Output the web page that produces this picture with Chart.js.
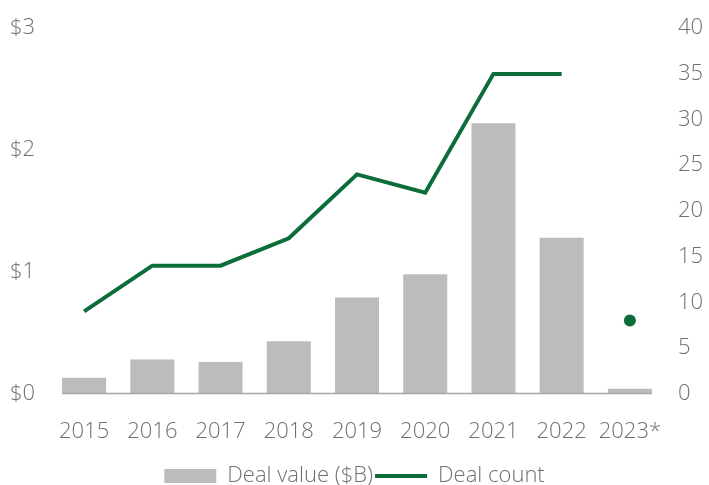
<!DOCTYPE html>
<html>
<head>
<meta charset="utf-8">
<script src="https://cdn.jsdelivr.net/npm/chart.js@4"></script>
<style>
  html, body { margin: 0; padding: 0; background: #fff; }
  #wrap { width: 709px; height: 485px; }
</style>
</head>
<body>
<div id="wrap"><canvas id="dealsChart" width="709" height="485"></canvas></div>
<script>
const years = ['2015', '2016', '2017', '2018', '2019', '2020', '2021', '2022', '2023*'];
const dealValue = [0.13, 0.28, 0.26, 0.43, 0.79, 0.98, 2.22, 1.28, 0.04];
const dealCount = [9, 14, 14, 17, 24, 22, 35, 35, 8];
const valueTicks = [0, 1, 2, 3];
const countTicks = [0, 5, 10, 15, 20, 25, 30, 35, 40];

const palette = {
    bar: '#bbbcbb',
    green: '#0b6d3a',
    text: '#707070',
    axis: '#a6a6a6',
};

// 2023 is a partial year: shown as a lone dot, not joined to the line
const lastIdx = dealCount.length - 1;
const lineData = dealCount.map(function (v, i) { return i === lastIdx ? null : v; });
const dotData = dealCount.map(function (v, i) { return i === lastIdx ? v : null; });

const font = { family: '"Open Sans", sans-serif', size: 22, weight: '300' };

// baseline runs from the outer edge of the first bar to the outer edge of the last one
const baseline = {
    id: 'baseline',
    afterDatasetsDraw: function (chart) {
        const bars = chart.getDatasetMeta(2).data;
        if (!bars.length) return;
        const first = bars[0];
        const last = bars[bars.length - 1];
        const y = chart.scales.value.getPixelForValue(0);
        const ctx = chart.ctx;
        ctx.save();
        ctx.strokeStyle = palette.axis;
        ctx.lineWidth = 1.5;
        ctx.beginPath();
        ctx.moveTo(first.x - first.width / 2, y);
        ctx.lineTo(last.x + last.width / 2, y);
        ctx.stroke();
        ctx.restore();
    },
};

new Chart(document.getElementById('dealsChart'), {
    data: {
        labels: years,
        datasets: [
            {
                type: 'line',
                label: 'Deal count',
                data: lineData,
                yAxisID: 'count',
                borderColor: palette.green,
                backgroundColor: palette.green,
                borderWidth: 4,
                pointRadius: 0,
                tension: 0,
                order: 0,
            },
            {
                type: 'line',
                label: 'Deal count 2023',
                data: dotData,
                yAxisID: 'count',
                showLine: false,
                pointRadius: 6,
                pointBorderWidth: 0,
                pointBackgroundColor: palette.green,
                order: 0,
            },
            {
                type: 'bar',
                label: 'Deal value ($B)',
                data: dealValue,
                yAxisID: 'value',
                backgroundColor: palette.bar,
                categoryPercentage: 1,
                barPercentage: 0.645,
                order: 1,
            },
        ],
    },
    plugins: [baseline],
    options: {
        responsive: false,
        animation: false,
        layout: { padding: { top: 0, left: 0, right: 0, bottom: -12 } },
        plugins: {
            tooltip: { enabled: false },
            legend: {
                position: 'bottom',
                labels: {
                    font: font,
                    color: palette.text,
                    usePointStyle: true,
                    boxHeight: 14,
                    pointStyleWidth: 52,
                    padding: 2,
                    generateLabels: function () {
                        return [
                            { text: 'Deal value ($B)', fillStyle: palette.bar, strokeStyle: palette.bar, lineWidth: 0, pointStyle: 'rect', fontColor: palette.text },
                            { text: 'Deal count', fillStyle: palette.green, strokeStyle: palette.green, lineWidth: 4, pointStyle: 'line', fontColor: palette.text },
                        ];
                    },
                },
            },
        },
        scales: {
            x: {
                afterFit: function (scale) { scale.height -= 7; },
                grid: { display: false, drawTicks: false },
                border: { display: false },
                ticks: { font: font, color: palette.text, padding: 25, maxRotation: 0 },
            },
            value: {
                position: 'left',
                min: 0,
                max: 3,
                afterFit: function (scale) { scale.width = 50; },
                afterBuildTicks: function (scale) {
                    scale.ticks = valueTicks.map(function (v) { return { value: v }; });
                },
                grid: { display: false, drawTicks: false },
                border: { display: false },
                ticks: {
                    font: font,
                    color: palette.text,
                    padding: 15,
                    callback: function (v) { return '$' + v; },
                },
            },
            count: {
                position: 'right',
                min: 0,
                max: 40,
                afterFit: function (scale) { scale.width = 45; },
                afterBuildTicks: function (scale) {
                    scale.ticks = countTicks.map(function (v) { return { value: v }; });
                },
                grid: { display: false, drawTicks: false },
                border: { display: false },
                ticks: { font: font, color: palette.text, padding: 14 },
            },
        },
    },
});
</script>
</body>
</html>
